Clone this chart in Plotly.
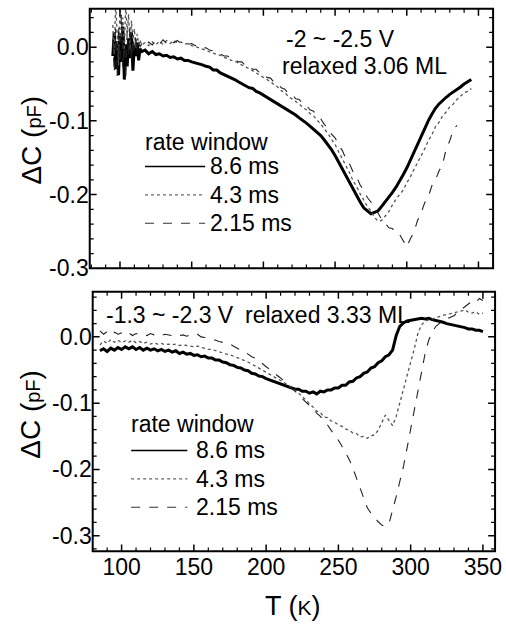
import numpy as np
import plotly.graph_objects as go

W, H = 506, 626
FONT = "Liberation Sans, Arial, sans-serif"

windows = ["8.6 ms", "4.3 ms", "2.15 ms"]

x_ticks = [100, 150, 200, 250, 300, 350]
x_ticktext = ["100", "150", "200", "250", "300", "350"]
y_ticks = [-0.3, -0.2, -0.1, 0.0]
y_ticktext = ["-0.3", "-0.2", "-0.1", "0.0"]

# ---- upper panel: -2 ~ -2.5 V, relaxed 3.06 ML ----
# noisy onset sampled every 1 K from 95 K, then every 2.5 K from 115 K
top_onset_start, top_onset_step = 95.0, 1.0
top_main_start, top_main_step = 115.0, 2.5

top_86_onset = [
    -0.012, 0.020, -0.030, 0.008, -0.038, 0.015, -0.020, 0.028, -0.044, 0.004,
    -0.026, 0.012, -0.015, 0.020, -0.032, 0.002, -0.012, 0.006, -0.018, -0.002,
]
top_86 = [
    -0.006, -0.004, -0.009, -0.006, -0.010, -0.009, -0.012, -0.011, -0.014, -0.013,
    -0.016, -0.015, -0.018, -0.018, -0.020, -0.021, -0.022, -0.024, -0.026, -0.027,
    -0.031, -0.031, -0.035, -0.037, -0.040, -0.042, -0.044, -0.047, -0.050, -0.052,
    -0.055, -0.056, -0.060, -0.062, -0.065, -0.068, -0.070, -0.073, -0.076, -0.079,
    -0.082, -0.086, -0.089, -0.092, -0.096, -0.099, -0.103, -0.107, -0.111, -0.115,
    -0.120, -0.126, -0.132, -0.139, -0.147, -0.156, -0.165, -0.174, -0.184, -0.193,
    -0.203, -0.210, -0.218, -0.222, -0.226, -0.224, -0.222, -0.216, -0.210, -0.203,
    -0.197, -0.190, -0.182, -0.173, -0.164, -0.153, -0.142, -0.131, -0.120, -0.110,
    -0.100, -0.091, -0.083, -0.077, -0.072, -0.068, -0.064, -0.061, -0.058, -0.054,
    -0.050, -0.047, -0.044,
]
top_43_onset = [
    0.030, -0.010, 0.060, 0.005, -0.025, 0.058, 0.012, 0.040, -0.008, 0.060,
    0.020, 0.045, -0.004, 0.036, 0.010, 0.025, -0.002, 0.018, 0.004, 0.010,
]
top_43 = [
    0.003, 0.006, 0.002, 0.007, 0.003, 0.008, 0.004, 0.009, 0.005, 0.009,
    0.006, 0.007, 0.004, 0.005, 0.002, 0.001, -0.001, -0.003, -0.004, -0.006,
    -0.008, -0.010, -0.011, -0.014, -0.015, -0.018, -0.019, -0.022, -0.024, -0.027,
    -0.029, -0.032, -0.034, -0.038, -0.040, -0.044, -0.047, -0.051, -0.054, -0.059,
    -0.062, -0.067, -0.070, -0.074, -0.077, -0.082, -0.085, -0.090, -0.093, -0.099,
    -0.104, -0.111, -0.117, -0.125, -0.132, -0.142, -0.151, -0.161, -0.170, -0.181,
    -0.189, -0.199, -0.207, -0.216, -0.222, -0.231, -0.236, -0.235, -0.229, -0.223,
    -0.214, -0.206, -0.200, -0.194, -0.184, -0.176, -0.166, -0.157, -0.146, -0.138,
    -0.127, -0.119, -0.108, -0.102, -0.093, -0.088, -0.081, -0.077, -0.071, -0.067,
    -0.062, -0.060, -0.056,
]
top_215_onset = [
    0.010, -0.035, 0.025, -0.040, 0.030, -0.020, 0.045, -0.028, 0.015, -0.045,
    0.022, -0.012, 0.030, -0.018, 0.012, -0.008, 0.016, -0.004, 0.008, 0.000,
]
top_215 = [
    0.004, 0.000, 0.007, 0.003, 0.009, 0.004, 0.010, 0.005, 0.010, 0.006,
    0.009, 0.005, 0.007, 0.004, 0.005, 0.002, 0.002, -0.001, -0.001, -0.004,
    -0.005, -0.008, -0.009, -0.012, -0.012, -0.016, -0.016, -0.020, -0.020, -0.025,
    -0.025, -0.030, -0.030, -0.035, -0.036, -0.041, -0.042, -0.048, -0.049, -0.055,
    -0.057, -0.063, -0.064, -0.070, -0.071, -0.077, -0.079, -0.085, -0.087, -0.094,
    -0.097, -0.105, -0.109, -0.118, -0.123, -0.133, -0.140, -0.151, -0.158, -0.169,
    -0.176, -0.187, -0.194, -0.204, -0.210, -0.220, -0.225, -0.234, -0.239, -0.245,
    -0.246, -0.253, -0.254, -0.263, -0.271, -0.260, -0.251, -0.235, -0.225, -0.211,
    -0.203, -0.188, -0.180, -0.168, -0.159, -0.138, -0.127, -0.112, -0.106,
]

# ---- lower panel: -1.3 ~ -2.3 V, relaxed 3.33 ML (every 2.5 K from 85 K) ----
bot_start, bot_step = 85.0, 2.5
bot_86 = [
    -0.021, -0.018, -0.022, -0.017, -0.020, -0.016, -0.019, -0.015, -0.018, -0.015,
    -0.019, -0.016, -0.020, -0.017, -0.020, -0.018, -0.021, -0.019, -0.022, -0.020,
    -0.023, -0.021, -0.025, -0.023, -0.026, -0.025, -0.028, -0.027, -0.030, -0.029,
    -0.032, -0.032, -0.035, -0.035, -0.038, -0.039, -0.042, -0.043, -0.046, -0.047,
    -0.050, -0.051, -0.055, -0.056, -0.059, -0.060, -0.063, -0.065, -0.068, -0.069,
    -0.072, -0.073, -0.076, -0.077, -0.079, -0.079, -0.082, -0.082, -0.085, -0.083,
    -0.086, -0.082, -0.083, -0.080, -0.080, -0.077, -0.077, -0.073, -0.073, -0.068,
    -0.067, -0.062, -0.060, -0.055, -0.053, -0.047, -0.045, -0.039, -0.036, -0.030,
    -0.027, -0.020, 0.002, 0.016, 0.021, 0.024, 0.025, 0.026, 0.027, 0.028,
    0.027, 0.028, 0.026, 0.025, 0.023, 0.022, 0.020, 0.019, 0.017, 0.017,
    0.015, 0.014, 0.012, 0.012, 0.010, 0.010, 0.008,
]
bot_43 = [
    -0.012, -0.006, -0.010, -0.004, -0.008, -0.005, -0.009, -0.006, -0.008, -0.005,
    -0.009, -0.007, -0.010, -0.008, -0.011, -0.009, -0.011, -0.010, -0.012, -0.011,
    -0.012, -0.011, -0.013, -0.012, -0.013, -0.014, -0.015, -0.014, -0.016, -0.017,
    -0.019, -0.019, -0.021, -0.022, -0.024, -0.026, -0.027, -0.029, -0.031, -0.033,
    -0.035, -0.038, -0.041, -0.044, -0.047, -0.050, -0.053, -0.056, -0.059, -0.062,
    -0.065, -0.069, -0.073, -0.077, -0.080, -0.085, -0.090, -0.096, -0.101, -0.106,
    -0.112, -0.114, -0.121, -0.122, -0.127, -0.129, -0.133, -0.135, -0.139, -0.141,
    -0.145, -0.146, -0.151, -0.150, -0.153, -0.149, -0.148, -0.141, -0.130, -0.118,
    -0.126, -0.134, -0.120, -0.100, -0.080, -0.060, -0.040, -0.018, 0.005, 0.018,
    0.024, 0.025, 0.027, 0.029, 0.031, 0.032, 0.034, 0.035, 0.036, 0.038,
    0.039, 0.041, 0.037, 0.036, 0.038, 0.034, 0.036,
]
bot_215 = [
    0.009, 0.004, 0.008, 0.003, 0.007, 0.004, 0.006, 0.003, 0.006, 0.002,
    0.005, 0.003, 0.004, 0.002, 0.005, 0.003, 0.004, 0.002, 0.004, 0.003,
    0.002, 0.004, 0.002, 0.003, 0.001, 0.003, 0.002, 0.004, 0.000, -0.001,
    -0.002, -0.004, -0.005, -0.007, -0.008, -0.010, -0.011, -0.014, -0.017, -0.019,
    -0.023, -0.026, -0.030, -0.032, -0.036, -0.041, -0.045, -0.049, -0.054, -0.058,
    -0.062, -0.067, -0.071, -0.076, -0.082, -0.087, -0.093, -0.098, -0.104, -0.109,
    -0.115, -0.120, -0.127, -0.133, -0.141, -0.148, -0.156, -0.165, -0.174, -0.185,
    -0.198, -0.213, -0.230, -0.245, -0.258, -0.266, -0.273, -0.279, -0.284, -0.286,
    -0.282, -0.263, -0.241, -0.218, -0.196, -0.168, -0.139, -0.110, -0.079, -0.050,
    -0.025, -0.005, 0.008, 0.016, 0.021, 0.025, 0.027, 0.030, 0.032, 0.037,
    0.041, 0.046, 0.050, 0.054, 0.052, 0.058, 0.055,
]

top_series = [(top_86_onset, top_86), (top_43_onset, top_43), (top_215_onset, top_215)]
bot_series = [bot_86, bot_43, bot_215]

styles = {
    "8.6 ms": dict(color="#000000", width=3.0, dash="solid"),
    "4.3 ms": dict(color="#555555", width=1.3, dash="dot"),
    "2.15 ms": dict(color="#222222", width=1.1, dash="dash"),
}
key_styles = {
    "8.6 ms": dict(color="#000000", width=1.6, dash="solid"),
    "4.3 ms": dict(color="#666666", width=1.2, dash="dot"),
    "2.15 ms": dict(color="#333333", width=1.1, dash="dash"),
}


def temps(start, step, values):
    return start + step * np.arange(len(values))


def px(x):
    return x / W


def py(y):
    return 1 - y / H


fig = go.Figure()
for name, (onset, main) in zip(windows, top_series):
    t = np.concatenate([temps(top_onset_start, top_onset_step, onset),
                        temps(top_main_start, top_main_step, main)])
    fig.add_trace(go.Scatter(x=t.tolist(), y=onset + main, mode="lines",
                             line=styles[name], name=name, showlegend=False,
                             xaxis="x", yaxis="y"))
for name, vals in zip(windows, bot_series):
    fig.add_trace(go.Scatter(x=temps(bot_start, bot_step, vals).tolist(), y=vals,
                             mode="lines", line=styles[name], name=name,
                             showlegend=False, xaxis="x2", yaxis="y2"))

# panel geometry (pixels) and value ranges
panels = [
    dict(x="x", y="y", left=91, right=500, top=9, bottom=274,
         xrange=[78.9, 360.2], yrange=[-0.3, 0.052], xlabels=False),
    dict(x="x2", y="y2", left=94, right=502, top=298, bottom=563,
         xrange=[80.0, 358.4], yrange=[-0.3236, 0.068], xlabels=True),
]

x_minor_ticks = [t for t in range(80, 361, 10) if t not in x_ticks]
y_minor_ticks = [round(float(v), 2) for v in np.arange(-0.32, 0.07, 0.02)
                 if round(float(v), 2) not in y_ticks]

tickfont = dict(family=FONT, size=23, color="black")
layout_axes = {}
shapes = []
for i, p in enumerate(panels):
    xkey = "xaxis" if i == 0 else "xaxis2"
    ykey = "yaxis" if i == 0 else "yaxis2"
    layout_axes[xkey] = dict(
        domain=[px(p["left"]), px(p["right"])], anchor=p["y"], range=p["xrange"],
        tickvals=x_ticks, ticktext=x_ticktext if p["xlabels"] else [""] * len(x_ticks),
        ticks="", showline=False, showgrid=False, zeroline=False,
        ticklabeloverflow="allow", tickfont=tickfont)
    layout_axes[ykey] = dict(
        domain=[py(p["bottom"]), py(p["top"])], anchor=p["x"], range=p["yrange"],
        tickvals=y_ticks, ticktext=y_ticktext,
        ticks="", showline=False, showgrid=False, zeroline=False,
        ticklabeloverflow="allow", tickfont=tickfont)

    # boxed frame with inward ticks on all four sides
    xd, yd = p["x"] + " domain", p["y"] + " domain"
    w_px = p["right"] - p["left"]
    h_px = p["bottom"] - p["top"]
    shapes.append(dict(type="rect", xref=xd, yref=yd, x0=0, x1=1, y0=0, y1=1,
                       line=dict(color="black", width=2), layer="above"))
    for vals, length, lw in ((x_ticks, 7, 1.5), (x_minor_ticks, 4, 1.2)):
        f = length / h_px
        for t in vals:
            if p["xrange"][0] + 0.5 < t < p["xrange"][1] - 0.5:
                for base, tip in ((0, f), (1, 1 - f)):
                    shapes.append(dict(type="line", xref=p["x"], yref=yd,
                                       x0=t, x1=t, y0=base, y1=tip, layer="above",
                                       line=dict(color="black", width=lw)))
    for vals, length, lw in ((y_ticks, 7, 1.5), (y_minor_ticks, 4, 1.2)):
        f = length / w_px
        for v in vals:
            if p["yrange"][0] + 0.002 < v < p["yrange"][1] - 0.002:
                for base, tip in ((0, f), (1, 1 - f)):
                    shapes.append(dict(type="line", xref=xd, yref=p["y"],
                                       x0=base, x1=tip, y0=v, y1=v, layer="above",
                                       line=dict(color="black", width=lw)))

txt = dict(family=FONT, size=23, color="black")
ann = []


def label(text, x, y, xanchor="left", size=23, **kw):
    ann.append(dict(text=text, x=px(x), y=py(y), xref="paper", yref="paper",
                    xanchor=xanchor, yanchor="middle", showarrow=False,
                    font=dict(txt, size=size), **kw))


# panel captions
label("-2 ~ -2.5 V", 345, 40, xanchor="center")
label("relaxed 3.06 ML", 370, 67, xanchor="center")
label("-1.3 ~ -2.3 V", 105, 322)
label("relaxed 3.33 ML", 246, 322)

# axis titles
ytitle = "\u0394C (<span style='font-size:20px'>pF</span>)"
label(ytitle, 31, 143, xanchor="center", size=28, textangle=-90)
label(ytitle, 31, 423, xanchor="center", size=28, textangle=-90)
label("T (<span style='font-size:21px'>K</span>)", 297, 619, xanchor="center", size=27)

# rate-window keys
key_layout = [
    dict(title_y=145, x0=147, x1=208, text_x=211, rows=[170, 199, 228]),
    dict(title_y=433, x0=133, x1=190, text_x=197, rows=[460, 489, 518]),
]
for k in key_layout:
    label("rate window", k["x0"] - 2, k["title_y"])
    for name, ry in zip(windows, k["rows"]):
        shapes.append(dict(type="line", xref="paper", yref="paper",
                           x0=px(k["x0"]), x1=px(k["x1"]), y0=py(ry), y1=py(ry),
                           line=key_styles[name]))
        label(name, k["text_x"], ry)

fig.update_layout(width=W, height=H, margin=dict(l=0, r=0, t=0, b=0),
                  plot_bgcolor="white", showlegend=False,
                  annotations=ann, shapes=shapes, **layout_axes)
fig.write_html("out.html")
